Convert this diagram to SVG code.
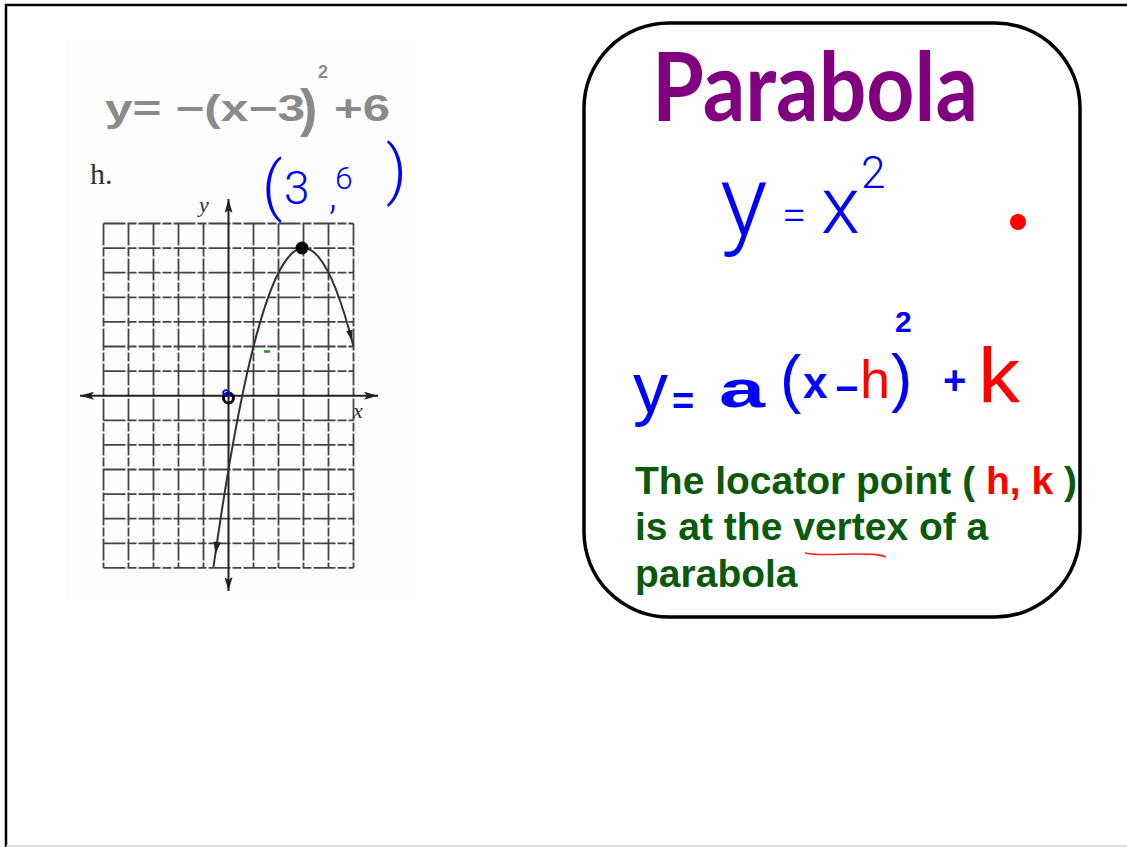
<svg xmlns="http://www.w3.org/2000/svg" width="1127" height="847" viewBox="0 0 1127 847">
  <style>
    .grid { stroke: #444; stroke-width: 1.8; stroke-dasharray: 22 2 9 2; fill: none; }
    .axis { stroke: #222; stroke-width: 2; fill: none; }
    .pen { font-family: Roboto, "Liberation Sans", Arial, sans-serif; font-weight: 300; fill: #0000ff; }
    .penr { font-family: "Liberation Sans", Arial, sans-serif; fill: #0000ff; }
    .penb { font-family: "Liberation Sans", Arial, sans-serif; fill: #0000ff; font-weight: bold; }
    .red { fill: #ff0000; }
    .green { font-family: "Liberation Sans", Arial, sans-serif; font-weight: bold; font-size: 39px; fill: #0a5a0a; }
    .serif { font-family: "Liberation Serif", "Times New Roman", serif; fill: #333; }
    .gray { font-family: "Liberation Sans", Arial, sans-serif; font-weight: bold; fill: #8a8a8a; }
  </style>
  <defs>
    <marker id="axarrow" viewBox="0 0 14 8" refX="14" refY="4" markerWidth="14" markerHeight="8" markerUnits="userSpaceOnUse" orient="auto-start-reverse">
      <path d="M0,0 L14,4 L0,8 L3,4 Z" fill="#222"/>
    </marker>
  </defs>
  <rect width="1127" height="847" fill="#fff"/>
  <!-- frame -->
  <path d="M6,847 V5 H1127" fill="none" stroke="#000" stroke-width="2.5"/>
  <path d="M6,846 H1127" fill="none" stroke="#d0d0d0" stroke-width="1.5"/>

  <!-- scanned worksheet -->
  <g id="worksheet">
    <rect x="65" y="40" width="345" height="560" fill="#fdfdfd"/>
    <text class="gray" x="105" y="121" font-size="36" textLength="200" lengthAdjust="spacingAndGlyphs">y= −(x−3</text>
    <text class="gray" x="300" y="126" font-size="52">)</text>
    <text class="gray" x="318" y="78" font-size="18">2</text>
    <text class="gray" x="334" y="121" font-size="36" textLength="56" lengthAdjust="spacingAndGlyphs">+6</text>
    <text class="serif" x="90" y="184" font-size="30">h.</text>
    <text class="serif" x="199" y="212" font-size="22" font-style="italic">y</text>
    <text class="serif" x="353" y="418" font-size="22" font-style="italic">x</text>

    <g id="grid">
      <path class="grid" d="M103.5,223.5 V568 M128.5,223.5 V568 M153.5,223.5 V568 M178.5,223.5 V568 M203.5,223.5 V568 M253.5,223.5 V568 M278.5,223.5 V568 M303.5,223.5 V568 M328.5,223.5 V568 M353.5,223.5 V568"/>
      <path class="grid" d="M103.5,223.5 H353.5 M103.5,248.1 H353.5 M103.5,272.7 H353.5 M103.5,297.3 H353.5 M103.5,321.9 H353.5 M103.5,346.5 H353.5 M103.5,371.1 H353.5 M103.5,420.3 H353.5 M103.5,444.9 H353.5 M103.5,469.5 H353.5 M103.5,494.1 H353.5 M103.5,518.7 H353.5 M103.5,543.3 H353.5 M103.5,567.9 H353.5"/>
    </g>
    <g id="axes">
      <path class="axis" d="M80,395.7 H378" marker-start="url(#axarrow)" marker-end="url(#axarrow)"/>
      <path class="axis" d="M228.5,199 V591" marker-start="url(#axarrow)" marker-end="url(#axarrow)"/>
    </g>
    <g id="curve">
      <path d="M213.5,566.9 Q283.5,71 353.5,346.5" fill="none" stroke="#333" stroke-width="2"/>
      <polygon points="352,341 352.4,329.6 346.2,331.3" fill="#222"/>
      <polygon points="215.5,554 220.8,542.5 213.5,541.5" fill="#222"/>
    </g>
    <circle cx="302" cy="248" r="6.5" fill="#000"/>
    <circle cx="228.5" cy="398" r="5" fill="none" stroke="#000" stroke-width="3"/>
    <circle cx="226" cy="393" r="2.8" fill="none" stroke="#0000ff" stroke-width="1.8"/>
    <path d="M264,351.5 H270" stroke="#1a9a1a" stroke-width="2.5"/>
    <!-- blue annotation (3,6 ) -->
    <text class="pen" x="262" y="208" font-size="64">(</text>
    <text class="pen" x="284" y="204" font-size="46">3</text>
    <text class="pen" x="329" y="209" font-size="40">,</text>
    <text class="pen" x="335" y="189" font-size="32">6</text>
    <text class="pen" x="386" y="192" font-size="64">)</text>
  </g>

  <!-- card -->
  <g id="card">
    <rect x="584" y="23" width="496" height="594" rx="85" ry="85" fill="#fff" stroke="#000" stroke-width="3.5"/>
    <text x="652" y="121" font-family="Lato, Open Sans, DejaVu Sans, sans-serif" font-weight="bold" font-size="96" fill="#800080" textLength="326" lengthAdjust="spacingAndGlyphs">Parabola</text>

    <text class="pen" x="720" y="236" font-size="100">y</text>
    <text class="pen" x="782" y="230" font-size="44">=</text>
    <text class="pen" x="821" y="233" font-size="80">x</text>
    <text class="pen" x="861" y="188" font-size="44">2</text>
    <circle cx="1018" cy="222" r="8" fill="#ff0000"/>

    <text class="penr" x="633" y="412" font-size="70">y</text>
    <text class="penb" x="672" y="414" font-size="38">=</text>
    <text class="penb" x="719" y="407" font-size="52" textLength="46" lengthAdjust="spacingAndGlyphs">a</text>
    <text class="penr" x="780" y="401" font-size="64">(</text>
    <text class="penb" x="803" y="398" font-size="44">x</text>
    <text class="penb" x="835" y="402" font-size="40">−</text>
    <text class="penr red" x="860" y="398" font-size="54">h</text>
    <text class="penr" x="891" y="400" font-size="64">)</text>
    <text class="penb" x="895" y="332" font-size="30">2</text>
    <text class="penb" x="943" y="394" font-size="40">+</text>
    <text class="penr red" x="978" y="403" font-size="78" textLength="42" lengthAdjust="spacingAndGlyphs">k</text>

    <text class="green" x="635" y="494">The locator point ( <tspan fill="#ff0000">h, k</tspan> )</text>
    <text class="green" x="635" y="540">is at the vertex of a</text>
    <text class="green" x="635" y="587">parabola</text>
    <path d="M805,553 C820,556 840,554 855,554 C870,554 880,554 886,557" fill="none" stroke="#ff2020" stroke-width="1.6"/>
  </g>
</svg>
